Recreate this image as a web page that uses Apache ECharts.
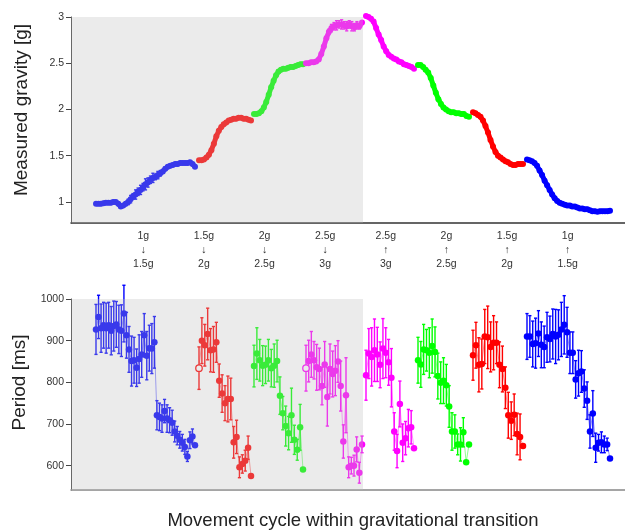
<!DOCTYPE html>
<html>
<head>
<meta charset="utf-8">
<script src="https://cdn.jsdelivr.net/npm/echarts@6/dist/echarts.min.js"></script>
<style>
  html, body { margin: 0; padding: 0; background: #fff; }
  #chart { width: 625px; height: 531px; }
</style>
</head>
<body>
<div id="chart"></div>
<script>
// transition labels shown between the two panels
const transitionLabels = [
  '1g\n↓\n1.5g', '1.5g\n↓\n2g', '2g\n↓\n2.5g', '2.5g\n↓\n3g',
  '2.5g\n↑\n3g', '2g\n↑\n2.5g', '1.5g\n↑\n2g', '1g\n↑\n1.5g'
];

// cycle range covered by each transition (same for both panels)
const segStart = [25, 128, 183, 235, 295, 347, 402, 456];
const segEnd = [124, 180, 232, 291, 343, 398, 452, 539];
const shadedEnd = 292; // cycles inside the grey block

// measured gravity [g], one array per transition
const gBlueUp = [0.98, 0.98, 0.98, 0.985, 0.99, 0.99, 0.99, 1.0, 1.0, 0.98, 0.95, 0.96, 0.98, 1.0, 1.03, 1.06, 1.08, 1.11, 1.13, 1.16, 1.19, 1.21, 1.24, 1.26, 1.27, 1.29, 1.31, 1.33, 1.36, 1.38, 1.39, 1.40, 1.41, 1.41, 1.42, 1.42, 1.42, 1.42, 1.43, 1.41, 1.38];
const gBlueUpErr = [0, 0, 0, 0, 0, 0, 0, 0, 0, 0, 0, 0, 0.02, 0.03, 0.04, 0.03, 0.05, 0.04, 0.05, 0.04, 0.06, 0.05, 0.04, 0.05, 0.03, 0.04, 0.03, 0.02, 0.02, 0, 0, 0, 0, 0, 0, 0, 0, 0, 0, 0, 0];
const gRedUp = [1.45, 1.45, 1.46, 1.48, 1.51, 1.56, 1.63, 1.71, 1.77, 1.81, 1.84, 1.86, 1.88, 1.89, 1.90, 1.90, 1.91, 1.91, 1.90, 1.90, 1.89, 1.88];
const gGreenUp = [1.95, 1.95, 1.96, 1.98, 2.02, 2.08, 2.16, 2.24, 2.31, 2.37, 2.41, 2.43, 2.44, 2.44, 2.45, 2.46, 2.46, 2.47, 2.48, 2.49, 2.49];
const gMagUp = [2.50, 2.50, 2.51, 2.51, 2.52, 2.54, 2.60, 2.68, 2.77, 2.84, 2.88, 2.90, 2.91, 2.92, 2.92, 2.91, 2.90, 2.92, 2.90, 2.89, 2.91, 2.90, 2.94];
const gMagUpErr = [0, 0, 0, 0, 0, 0, 0, 0, 0.02, 0.03, 0.04, 0.04, 0.05, 0.04, 0.05, 0.04, 0.05, 0.04, 0.05, 0.04, 0.04, 0.03, 0.02];
const gMagDown = [3.01, 3.00, 2.98, 2.95, 2.88, 2.81, 2.75, 2.68, 2.63, 2.59, 2.57, 2.55, 2.54, 2.52, 2.51, 2.49, 2.48, 2.47, 2.46, 2.44];
const gGreenDown = [2.48, 2.48, 2.46, 2.43, 2.40, 2.34, 2.26, 2.18, 2.11, 2.06, 2.02, 2.00, 1.98, 1.97, 1.97, 1.96, 1.96, 1.95, 1.95, 1.93, 1.92];
const gRedDown = [1.97, 1.96, 1.94, 1.92, 1.88, 1.82, 1.75, 1.67, 1.60, 1.54, 1.50, 1.48, 1.46, 1.44, 1.43, 1.41, 1.40, 1.40, 1.41, 1.41, 1.41];
const gBlueDown = [1.46, 1.45, 1.44, 1.42, 1.39, 1.34, 1.29, 1.23, 1.18, 1.13, 1.08, 1.04, 1.01, 0.99, 0.98, 0.97, 0.96, 0.96, 0.95, 0.95, 0.94, 0.93, 0.93, 0.92, 0.92, 0.91, 0.90, 0.90, 0.895, 0.90, 0.90, 0.90, 0.90, 0.905];

// period [ms] and its error, one array per transition
const pBlueUp = [927, 957, 930, 937, 930, 937, 924, 935, 939, 927, 924, 965, 913, 879, 851, 853, 835, 856, 867, 913, 864, 882, 881, 896, 721, 717, 713, 731, 713, 709, 703, 682, 672, 662, 655, 645, 622, 661, 670, 649];
const eBlueUp = [60, 52, 58, 55, 60, 55, 58, 60, 55, 58, 62, 68, 55, 55, 60, 55, 45, 58, 55, 52, 58, 55, 60, 62, 35, 33, 33, 28, 33, 30, 30, 25, 22, 20, 20, 18, 12, 20, 18, 0];
const pRedUp = [834, 900, 889, 916, 877, 879, 896, 804, 773, 750, 760, 760, 656, 669, 596, 604, 612, 643, 575];
const eRedUp = [51, 55, 50, 62, 52, 55, 48, 40, 45, 42, 55, 50, 38, 40, 25, 22, 25, 28, 0];
const pGreenUp = [839, 869, 853, 840, 842, 853, 834, 840, 851, 768, 726, 695, 678, 721, 662, 638, 692, 591];
const eGreenUp = [50, 62, 50, 48, 45, 50, 45, 52, 50, 45, 40, 48, 40, 65, 35, 25, 55, 0];
const pMagUp = [834, 851, 867, 853, 836, 832, 791, 843, 765, 832, 820, 828, 850, 791, 658, 769, 596, 600, 600, 639, 583, 651];
const eMagUp = [55, 50, 55, 45, 55, 50, 45, 55, 70, 60, 55, 60, 50, 60, 40, 90, 25, 20, 25, 30, 25, 20];
const pMagDown = [817, 869, 861, 877, 867, 842, 881, 871, 848, 811, 682, 635, 748, 655, 666, 690, 692, 642];
const eMagDown = [60, 60, 70, 75, 65, 55, 72, 60, 55, 70, 45, 40, 55, 45, 40, 45, 40, 0];
const pGreenDown = [853, 843, 879, 877, 871, 887, 873, 815, 799, 804, 793, 742, 682, 682, 651, 651, 680, 608, 651];
const eGreenDown = [55, 55, 60, 50, 60, 65, 60, 55, 50, 55, 50, 50, 45, 40, 25, 40, 35, 0, 0];
const pRedDown = [865, 889, 842, 844, 910, 908, 885, 895, 895, 842, 832, 787, 721, 708, 722, 676, 669, 647];
const eRedDown = [60, 55, 65, 60, 65, 75, 60, 65, 50, 55, 55, 50, 55, 45, 50, 50, 55, 0];
const pBlueDown = [910, 910, 892, 894, 917, 890, 885, 908, 904, 916, 910, 914, 927, 938, 920, 871, 871, 807, 822, 826, 785, 756, 682, 725, 643, 655, 656, 651, 651, 617];
const eBlueDown = [55, 50, 55, 60, 55, 55, 50, 60, 55, 60, 65, 60, 65, 70, 60, 50, 50, 45, 55, 50, 45, 45, 40, 55, 35, 20, 25, 20, 15, 0];

const gravity = [gBlueUp, gRedUp, gGreenUp, gMagUp, gMagDown, gGreenDown, gRedDown, gBlueDown];
const gravityErr = [gBlueUpErr, null, null, gMagUpErr, null, null, null, null];
const period = [pBlueUp, pRedUp, pGreenUp, pMagUp, pMagDown, pGreenDown, pRedDown, pBlueDown];
const periodErr = [eBlueUp, eRedUp, eGreenUp, eMagUp, eMagDown, eGreenDown, eRedDown, eBlueDown];
const hollowFirst = [false, true, false, true, false, false, false, false];

const segColors = ['#0000ff', '#ff0000', '#00ff00', '#ff00ff', '#ff00ff', '#00ff00', '#ff0000', '#0000ff'];

// cycle index of point i in segment s
function cycleOf(s, i, n) {
  return segStart[s] + i * (segEnd[s] - segStart[s]) / (n - 1);
}

function renderErrorBar(params, api) {
  const x = api.value(0);
  const lo = api.coord([x, api.value(1)]);
  const hi = api.coord([x, api.value(2)]);
  const cap = 1.6;
  const style = { stroke: api.visual('color'), lineWidth: 1.4 };
  return {
    type: 'group',
    children: [
      { type: 'line', shape: { x1: hi[0], y1: hi[1], x2: lo[0], y2: lo[1] }, style: style },
      { type: 'line', shape: { x1: hi[0] - cap, y1: hi[1], x2: hi[0] + cap, y2: hi[1] }, style: style },
      { type: 'line', shape: { x1: lo[0] - cap, y1: lo[1], x2: lo[0] + cap, y2: lo[1] }, style: style }
    ]
  };
}

const series = [];
for (let s = 0; s < 8; s++) {
  const color = segColors[s];
  const g = gravity[s];
  series.push({
    type: 'line',
    xAxisIndex: 0, yAxisIndex: 0,
    symbol: 'circle', symbolSize: 6,
    showAllSymbol: true,
    itemStyle: { color: color },
    lineStyle: { color: color, width: 5 },
    clip: false,
    data: g.map((v, i) => [cycleOf(s, i, g.length), v])
  });
  if (gravityErr[s]) {
    const err = gravityErr[s];
    series.push({
      type: 'custom',
      xAxisIndex: 0, yAxisIndex: 0,
      itemStyle: { color: color },
      renderItem: renderErrorBar,
      data: g.map((v, i) => [cycleOf(s, i, g.length), v - err[i], v + err[i]]).filter((d, i) => err[i] > 0)
    });
  }
  const p = period[s];
  const e = periodErr[s];
  series.push({
    type: 'custom',
    xAxisIndex: 1, yAxisIndex: 1,
    itemStyle: { color: color },
    renderItem: renderErrorBar,
    data: p.map((v, i) => [cycleOf(s, i, p.length), v - e[i], v + e[i]]).filter((d, i) => e[i] > 0)
  });
  series.push({
    type: 'line',
    xAxisIndex: 1, yAxisIndex: 1,
    symbol: 'circle', symbolSize: 6.5,
    showAllSymbol: true,
    clip: false,
    itemStyle: { color: color },
    lineStyle: { color: color, width: 1, opacity: 0.45 },
    data: p.map((v, i) => {
      const item = { value: [cycleOf(s, i, p.length), v] };
      if (i === 0 && hollowFirst[s]) {
        item.itemStyle = { color: '#ffffff', borderColor: color, borderWidth: 1.3 };
      }
      return item;
    })
  });
}

// translucent grey block laid over the first four transitions
[0, 1].forEach(k => {
  series.push({
    type: 'line',
    xAxisIndex: k, yAxisIndex: k,
    z: 10,
    silent: true,
    data: [],
    markArea: {
      silent: true,
      z: 10,
      itemStyle: { color: 'rgba(188,188,188,0.3)' },
      data: [[{ xAxis: 0 }, { xAxis: shadedEnd }]]
    }
  });
});

const fontFamily = 'Liberation Sans, Arial, sans-serif';
const plain = v => String(v);

const chart = echarts.init(document.getElementById('chart'));
chart.setOption({
  animation: false,
  textStyle: { fontFamily: fontFamily },
  grid: [
    { left: 71, right: 0, top: 17, height: 206 },
    { left: 71, right: 0, top: 299, height: 196 },
    { left: 113, width: 485, top: 222, height: 1 }
  ],
  xAxis: [
    {
      gridIndex: 0, type: 'value', min: 0, max: 554,
      axisLine: { show: true, onZero: false, lineStyle: { color: '#333', width: 1.5 } },
      axisTick: { show: false }, axisLabel: { show: false }, splitLine: { show: false }
    },
    {
      gridIndex: 1, type: 'value', min: 0, max: 554,
      axisLine: { show: true, onZero: false, lineStyle: { color: '#888', width: 1.5 } },
      axisTick: { show: false }, axisLabel: { show: false }, splitLine: { show: false },
      name: 'Movement cycle within gravitational transition',
      nameLocation: 'middle', nameGap: 21,
      nameTextStyle: { fontSize: 18.5, color: '#222', verticalAlign: 'top', padding: [0, 0, 0, 10] }
    },
    {
      gridIndex: 2, type: 'category', data: transitionLabels,
      axisLine: { show: false }, axisTick: { show: false },
      axisLabel: { fontSize: 10.5, lineHeight: 14, color: '#333', margin: 6, interval: 0 }
    }
  ],
  yAxis: [
    {
      gridIndex: 0, type: 'value', min: 0.772, max: 3.0,
      axisLine: { show: true, lineStyle: { color: '#444' } },
      axisTick: { show: true, length: 5, customValues: [1, 1.5, 2, 2.5, 3], lineStyle: { color: '#444' } },
      axisLabel: { customValues: [1, 1.5, 2, 2.5, 3], formatter: plain, fontSize: 10.5, color: '#333', margin: 7 },
      splitLine: { show: false },
      name: 'Measured gravity [g]', nameLocation: 'middle', nameGap: 40,
      nameTextStyle: { fontSize: 19, color: '#222', padding: [0, 0, 0, 20] }
    },
    {
      gridIndex: 1, type: 'value', min: 541.5, max: 1000,
      axisLine: { show: true, lineStyle: { color: '#444' } },
      axisTick: { show: true, length: 5, customValues: [600, 700, 800, 900, 1000], lineStyle: { color: '#444' } },
      axisLabel: { customValues: [600, 700, 800, 900, 1000], formatter: plain, fontSize: 10.5, color: '#333', margin: 7 },
      splitLine: { show: false },
      name: 'Period [ms]', nameLocation: 'middle', nameGap: 40,
      nameTextStyle: { fontSize: 19, color: '#222', padding: [0, 0, 0, 24] }
    },
    { gridIndex: 2, type: 'value', show: false }
  ],
  series: series
});
</script>
</body>
</html>
